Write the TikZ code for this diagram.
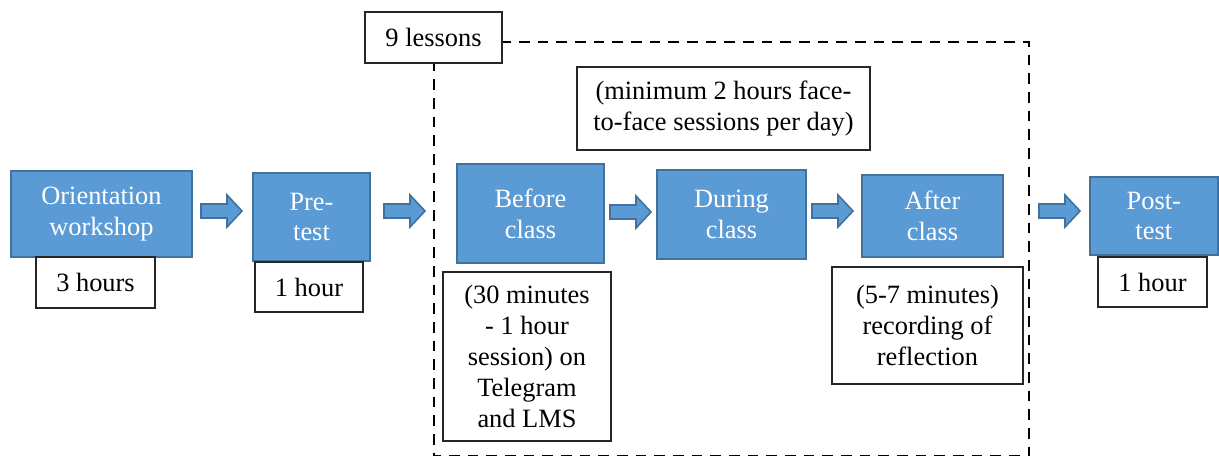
\documentclass[tikz,border=0pt]{standalone}
\usepackage{fontspec}
\setmainfont{Liberation Serif}
\definecolor{stagefill}{HTML}{5B9BD5}
\definecolor{stageedge}{HTML}{41719C}
\newcommand\labelsize{\fontsize{19.8}{23.2}\selectfont}
\tikzset{
  stage/.style={draw=stageedge, fill=stagefill, line width=1.5pt, text=white,
    align=center, inner sep=0pt, font=\labelsize},
  note/.style={draw=black!85, fill=white, line width=1pt, text=black,
    align=center, inner sep=0pt, font=\labelsize},
  size/.style 2 args={minimum width=#1, minimum height=#2},
  phaseframe/.style={draw=black, line width=2pt, dash pattern=on 8pt off 6pt},
  flowarrow/.pic={
    \draw[draw=stageedge, fill=stagefill, line width=1.2pt, line join=miter]
      (0,-7) -- (26,-7) -- (26,-16) -- (41,0) -- (26,16) -- (26,7) -- (0,7) -- cycle;
  }
}
\begin{document}
\begin{tikzpicture}[x=0.75pt, y=-0.75pt]
\useasboundingbox (0,0) rectangle (1219,455);

% frame around the nine lessons
\draw[phaseframe] (434,42) rectangle (1029,456.2);

% main stages
\node[stage, size={135.75pt}{64.5pt}]  (orient) at (101.5,214)  {Orientation\\workshop};
\node[stage, size={87.75pt}{66pt}]     (pre)    at (311.5,217)  {Pre-\\test};
\node[stage, size={110.25pt}{74.25pt}] (before) at (530.5,213.5) {Before\\class};
\node[stage, size={111.75pt}{66.75pt}] (during) at (731.5,214.5) {During\\class};
\node[stage, size={105.75pt}{61.5pt}]  (after)  at (932.5,216)  {After\\class};
\node[stage, size={95.6pt}{58.5pt}]    (post)   at (1153.75,216) {Post-\\test};

% durations and notes
\node[note, size={89.25pt}{38.25pt}]  (orienttime) at (95.5,282.5) {3 hours};
\node[note, size={81pt}{37.5pt}]      (pretime)    at (309,287)    {1 hour};
\node[note, size={81.75pt}{37.5pt}]   (posttime)   at (1152.5,282) {1 hour};
\node[note, size={126pt}{126.75pt}]   (beforenote) at (527,356.5)
  {(30 minutes\\- 1 hour\\session) on\\Telegram\\and LMS};
\node[note, size={143.25pt}{87.75pt}] (afternote)  at (927.5,325.5)
  {(5-7 minutes)\\recording of\\reflection};
\node[note, size={219.75pt}{62.25pt}] (duringnote) at (723.5,108.5)
  {(minimum 2 hours face-\\to-face sessions per day)};
\node[note, size={102.75pt}{38.25pt}] (lessons)    at (433.5,37.5) {9 lessons};

% block arrows between stages
\pic at (201,211) {flowarrow};
\pic at (384,211) {flowarrow};
\pic at (610,212) {flowarrow};
\pic at (812,211) {flowarrow};
\pic at (1039,211) {flowarrow};
\end{tikzpicture}
\end{document}
